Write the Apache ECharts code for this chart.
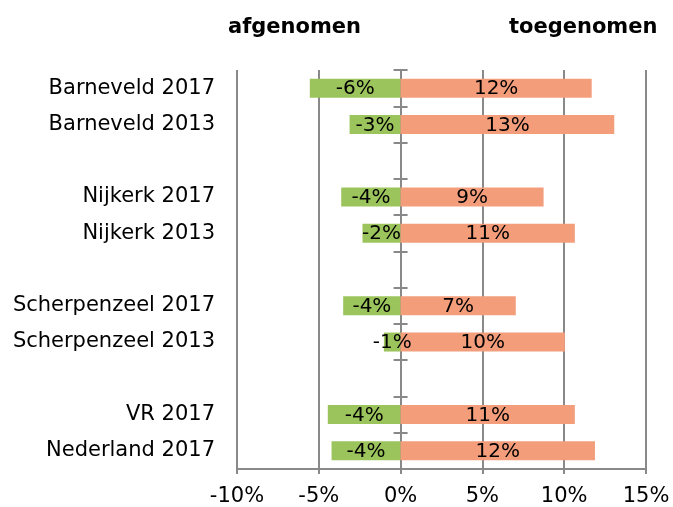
<!DOCTYPE html>
<html>
<head>
<meta charset="utf-8">
<script src="https://cdn.jsdelivr.net/npm/echarts@6/dist/echarts.min.js"></script>
<style>
  html, body { margin: 0; padding: 0; background: #fff; }
  #main { width: 673px; height: 507px; }
</style>
</head>
<body>
<div id="main"></div>
<script type="text/javascript">
// rijen van boven naar beneden, lege rijen als scheiding
var categories = ['Barneveld 2017', 'Barneveld 2013', ' ', 'Nijkerk 2017', 'Nijkerk 2013', '  ',
                  'Scherpenzeel 2017', 'Scherpenzeel 2013', '   ', 'VR 2017', 'Nederland 2017'];
var afgenomen  = [-5.55, -3.12, null, -3.63, -2.33, null, -3.51, -1.02, null, -4.45, -4.22];
var toegenomen = [11.68, 13.06, null, 8.74, 10.65, null, 7.04, 10.04, null, 10.65, 11.88];
var xTicks = [-10, -5, 0, 5, 10, 15];

var font = 'DejaVu Sans, Verdana, sans-serif';
var gray = '#898989';
var myChart = echarts.init(document.getElementById('main'));

function pct(p) { return Math.round(p.value) + '%'; }

var option = {
    animation: false,
    graphic: [
        { type: 'text', left: 228, top: 17, style: { text: 'afgenomen', font: 'bold 21px ' + font, fill: '#000' } },
        { type: 'text', left: 509, top: 17, style: { text: 'toegenomen', font: 'bold 21px ' + font, fill: '#000' } }
    ],
    grid: { left: 237, right: 27, top: 70, bottom: 37 },
    xAxis: {
        type: 'value',
        min: xTicks[0],
        max: xTicks[xTicks.length - 1],
        interval: 5,
        axisLine: { show: true, onZero: false, lineStyle: { color: gray, width: 2 } },
        axisTick: { show: true, length: 5, lineStyle: { color: gray, width: 2 } },
        axisLabel: { formatter: '{value}%', color: '#000', fontSize: 21, fontFamily: font, margin: 17 },
        splitLine: { show: true, lineStyle: { color: gray, width: 2 } }
    },
    yAxis: [
        {
            type: 'category',
            data: categories,
            inverse: true,
            axisLine: { show: false },
            axisTick: { show: false },
            axisLabel: { color: '#000', fontSize: 21, fontFamily: font, margin: 22 }
        },
        {
            // alleen de streepjes over de nullijn
            type: 'category',
            data: categories,
            inverse: true,
            position: 'left',
            offset: -170,
            axisLine: { show: false },
            axisTick: { show: true, length: 14, lineStyle: { color: gray, width: 2 } },
            axisLabel: { show: false }
        }
    ],
    series: [
        {
            name: 'afgenomen',
            type: 'bar',
            stack: 'totaal',
            barWidth: 19,
            data: afgenomen,
            itemStyle: { color: '#9cc45c' },
            label: { show: true, position: 'inside', formatter: pct, color: '#000', fontSize: 20, fontFamily: font, offset: [0, 1] }
        },
        {
            name: 'toegenomen',
            type: 'bar',
            stack: 'totaal',
            barWidth: 19,
            data: toegenomen,
            itemStyle: { color: '#f49d7b' },
            label: { show: true, position: 'inside', formatter: pct, color: '#000', fontSize: 20, fontFamily: font, offset: [0, 1] }
        }
    ]
};
myChart.setOption(option);

// tickas precies 7px rechts van de nullijn zetten
var zeroX = myChart.convertToPixel({ xAxisIndex: 0 }, 0);
myChart.setOption({ yAxis: [{}, { offset: 237 - (zeroX + 7) }] });
</script>
</body>
</html>
